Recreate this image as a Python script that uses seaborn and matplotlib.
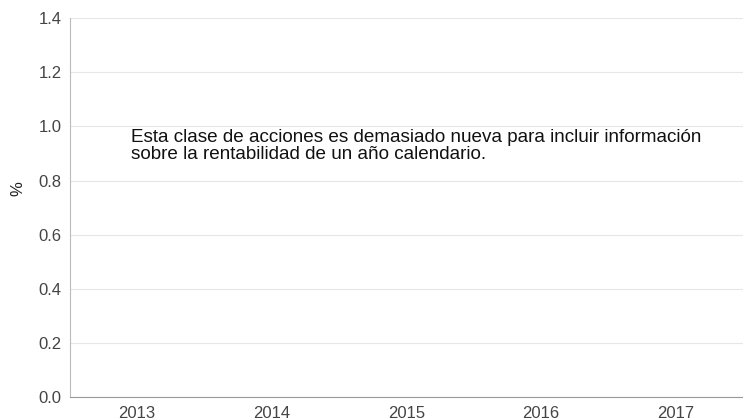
import numpy as np
import pandas as pd
import seaborn as sns
import matplotlib.pyplot as plt

years = ["2013", "2014", "2015", "2016", "2017"]
returns = [np.nan, np.nan, np.nan, np.nan, np.nan]
yticks = [0.0, 0.2, 0.4, 0.6, 0.8, 1.0, 1.2, 1.4]
note = ("Esta clase de acciones es demasiado nueva para incluir información\n"
        "sobre la rentabilidad de un año calendario.")

sns.set_style("white")
plt.rcParams['font.family'] = ['Liberation Sans', 'DejaVu Sans']

df = pd.DataFrame({"year": years, "ret": returns})

fig, ax = plt.subplots(figsize=(7.43, 4.19), dpi=100)
fig.subplots_adjust(left=0.094, right=1.0, top=0.957, bottom=0.052)

sns.barplot(data=df, x="year", y="ret", order=years, ax=ax, color="#1f5fa0")

ax.set_xlim(-0.5, len(years) - 0.5)
ax.set_ylim(0, 1.4)
ax.set_yticks(yticks)
ax.set_yticklabels([f"{v:.1f}" for v in yticks])
ax.yaxis.grid(True, color="#e6e6e6", linewidth=0.8)
ax.set_axisbelow(True)

for s in ["top", "right"]:
    ax.spines[s].set_visible(False)
ax.spines["left"].set_color("#bbbbbb")
ax.spines["bottom"].set_color("#999999")
ax.tick_params(axis="both", length=0, colors="#444444", labelsize=12)
ax.tick_params(axis="y", pad=6)
ax.tick_params(axis="x", pad=6)

ax.set_xlabel("")
ax.set_ylabel("%", fontsize=12, color="#222222")
ax.yaxis.set_label_coords(-0.066, 0.549)

ax.text(0.0906, 0.708, note, transform=ax.transAxes, fontsize=13.55,
        color="#111111", va="top", ha="left", linespacing=1.0)

plt.savefig("out.png", dpi=100)
